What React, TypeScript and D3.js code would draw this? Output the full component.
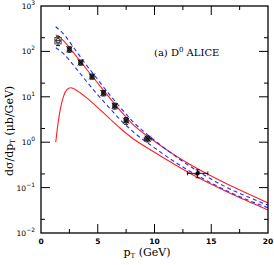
import React from "react";
import * as d3 from "d3";

const W = 274, H = 265;
const M = { left: 41, top: 6, right: 268, bottom: 233 };

// data points (ALICE D0)
const ptData = [1.5, 2.5, 3.5, 4.5, 5.5, 6.5, 7.5, 9.4, 13.8];
const sigData = [172, 111, 57, 28, 12.1, 6.3, 2.98, 1.19, 0.206];
const relErr = [0.22, 0.14, 0.13, 0.13, 0.14, 0.15, 0.17, 0.15, 0.2];
const xErrLo = [0, 0, 0, 0, 0, 0, 0, 0.3, 0.9];
const xErrHi = [0, 0, 0, 0, 0, 0, 0, 0.3, 0.9];

// theory curves
const ptRedUp = [1.3, 1.5, 2, 2.5, 3, 4, 5, 6, 7, 8, 10, 12, 14, 16, 18, 20];
const redUp = [230, 220, 170, 122, 85, 41, 20, 9.8, 4.9, 2.6, 1.05, 0.48, 0.245, 0.135, 0.078, 0.046];
const ptRedLo = [1.3, 1.5, 1.8, 2, 2.3, 2.6, 3, 3.5, 4, 5, 6, 7, 8, 10, 12, 14, 16, 18, 20];
const redLo = [1.0, 2.6, 7, 10.5, 14.5, 15.8, 14.5, 12, 9.6, 5.8, 3.4, 2.0, 1.25, 0.6, 0.3, 0.158, 0.09, 0.053, 0.032];
const ptBlue = [1.3, 2, 3, 4, 5, 6, 7, 8, 10, 12, 14, 16, 18, 20];
const blueUp = [350, 240, 110, 50, 24, 11.5, 5.8, 3.0, 1.1, 0.46, 0.215, 0.112, 0.066, 0.041];
const blueLo = [120, 88, 45, 22, 11, 5.8, 3.1, 1.8, 0.75, 0.34, 0.172, 0.094, 0.056, 0.036];

const xMajor = [0, 5, 10, 15, 20];
const xMinor = [2.5, 7.5, 12.5, 17.5];
const yMajorExp = [-2, -1, 0, 1, 2, 3];

export default function App() {
  const x = d3.scaleLinear().domain([0, 20]).range([M.left, M.right]);
  const y = d3.scaleLog().domain([0.01, 1000]).range([M.bottom, M.top]);
  const line = d3.line<[number, number]>().x(d => x(d[0])).y(d => y(d[1])).curve(d3.curveMonotoneX);
  const mk = (xs: number[], ys: number[]) => line(xs.map((v, i) => [v, ys[i]] as [number, number])) || "";
  const yMinor = yMajorExp.slice(0, -1).map(e => 2 * Math.pow(10, e));
  const font = "'DejaVu Sans', sans-serif";
  const serif = "'DejaVu Serif', serif";

  return (
    <svg width={W} height={H} style={{ position: "absolute", left: 0, top: 0 }} xmlns="http://www.w3.org/2000/svg">
      <rect x={0} y={0} width={W} height={H} fill="white" />
      <defs>
        <clipPath id="clip"><rect x={M.left} y={M.top} width={M.right - M.left} height={M.bottom - M.top} /></clipPath>
      </defs>
      <g clipPath="url(#clip)" fill="none">
        <path d={mk(ptRedUp, redUp)} stroke="#ff2020" strokeWidth={1.1} />
        <path d={mk(ptRedLo, redLo)} stroke="#ff2020" strokeWidth={1.1} />
        <path d={mk(ptBlue, blueUp)} stroke="#2030ff" strokeWidth={1.1} strokeDasharray="4,3" />
        <path d={mk(ptBlue, blueLo)} stroke="#2030ff" strokeWidth={1.1} strokeDasharray="4,3" />
      </g>
      {ptData.map((p, i) => {
        const v = sigData[i];
        const cx = x(p), cy = y(v);
        const y1 = y(v * (1 + relErr[i])), y2 = y(v * (1 - relErr[i]));
        const first = i === 0;
        return (
          <g key={i} stroke="black" strokeWidth={0.9}>
            <line x1={cx} x2={cx} y1={y1} y2={y2} />
            <line x1={cx - 2} x2={cx + 2} y1={y1} y2={y1} />
            <line x1={cx - 2} x2={cx + 2} y1={y2} y2={y2} />
            {xErrLo[i] > 0 && <line x1={x(p - xErrLo[i])} x2={x(p + xErrHi[i])} y1={cy} y2={cy} />}
            {xErrLo[i] > 0 && <line x1={x(p - xErrLo[i])} x2={x(p - xErrLo[i])} y1={cy - 2} y2={cy + 2} />}
            {xErrLo[i] > 0 && <line x1={x(p + xErrHi[i])} x2={x(p + xErrHi[i])} y1={cy - 2} y2={cy + 2} />}
            {first ? (
              <g>
                <rect x={cx - 3.2} y={cy - 3.2} width={6.4} height={6.4} fill="#ddd" stroke="#444" />
                <circle cx={cx} cy={cy} r={2.2} fill="white" stroke="black" />
                <line x1={cx - 2.2} x2={cx + 2.2} y1={cy} y2={cy} />
              </g>
            ) : i < 8 ? (
              <g>
                <rect x={cx - 2.2} y={cy - 2.2} width={4.4} height={4.4} fill="#333" stroke="#222" strokeWidth={0.6} />
                <line x1={cx - 3} x2={cx + 3} y1={cy - 3} y2={cy + 3} />
                <line x1={cx - 3} x2={cx + 3} y1={cy + 3} y2={cy - 3} />
              </g>
            ) : (
              <rect x={cx - 1.3} y={cy - 1.3} width={2.6} height={2.6} fill="black" />
            )}
          </g>
        );
      })}
      {/* frame */}
      <rect x={M.left} y={M.top} width={M.right - M.left} height={M.bottom - M.top} fill="none" stroke="black" strokeWidth={1.3} />
      <g stroke="black" strokeWidth={1}>
        {xMajor.slice(1, -1).map(t => (
          <g key={"xM" + t}>
            <line x1={x(t)} x2={x(t)} y1={M.bottom} y2={M.bottom - 9} />
            <line x1={x(t)} x2={x(t)} y1={M.top} y2={M.top + 9} />
          </g>
        ))}
        {xMinor.map(t => (
          <g key={"xm" + t}>
            <line x1={x(t)} x2={x(t)} y1={M.bottom} y2={M.bottom - 4} />
            <line x1={x(t)} x2={x(t)} y1={M.top} y2={M.top + 4} />
          </g>
        ))}
        {yMajorExp.slice(1, -1).map(e => (
          <g key={"yM" + e}>
            <line x1={M.left} x2={M.left + 9} y1={y(Math.pow(10, e))} y2={y(Math.pow(10, e))} />
            <line x1={M.right} x2={M.right - 9} y1={y(Math.pow(10, e))} y2={y(Math.pow(10, e))} />
          </g>
        ))}
        {yMinor.map(v => (
          <g key={"ym" + v}>
            <line x1={M.left} x2={M.left + 4} y1={y(v)} y2={y(v)} />
            <line x1={M.right} x2={M.right - 4} y1={y(v)} y2={y(v)} />
          </g>
        ))}
      </g>
      {xMajor.map(t => (
        <text key={"xl" + t} x={x(t)} y={M.bottom + 11} textAnchor="middle" fontFamily={font} fontSize={7.5} fontWeight="bold">{t}</text>
      ))}
      {yMajorExp.map(e => (
        <text key={"yl" + e} x={M.left - 6} y={y(Math.pow(10, e)) + 3} textAnchor="end" fontFamily={font} fontSize={7.5}>
          10<tspan dy={-4} fontSize={6}>{e < 0 ? "\u2212" + Math.abs(e) : e}</tspan>
        </text>
      ))}
      <text x={147} y={256} textAnchor="middle" fontFamily={serif} fontSize={11}>
        p<tspan dy={2} fontSize={7}>T</tspan><tspan dy={-2}> (GeV)</tspan>
      </text>
      <text transform="translate(13,131) rotate(-90)" textAnchor="middle" fontFamily={serif} fontSize={11}>
        dσ/dp<tspan dy={2} fontSize={7}>T</tspan><tspan dy={-2}> (μb/GeV)</tspan>
      </text>
      <text x={154} y={56} fontFamily={serif} fontSize={10}>
        (a) D<tspan dy={-4} fontSize={7}>0</tspan><tspan dy={4}> ALICE</tspan>
      </text>
    </svg>
  );
}
